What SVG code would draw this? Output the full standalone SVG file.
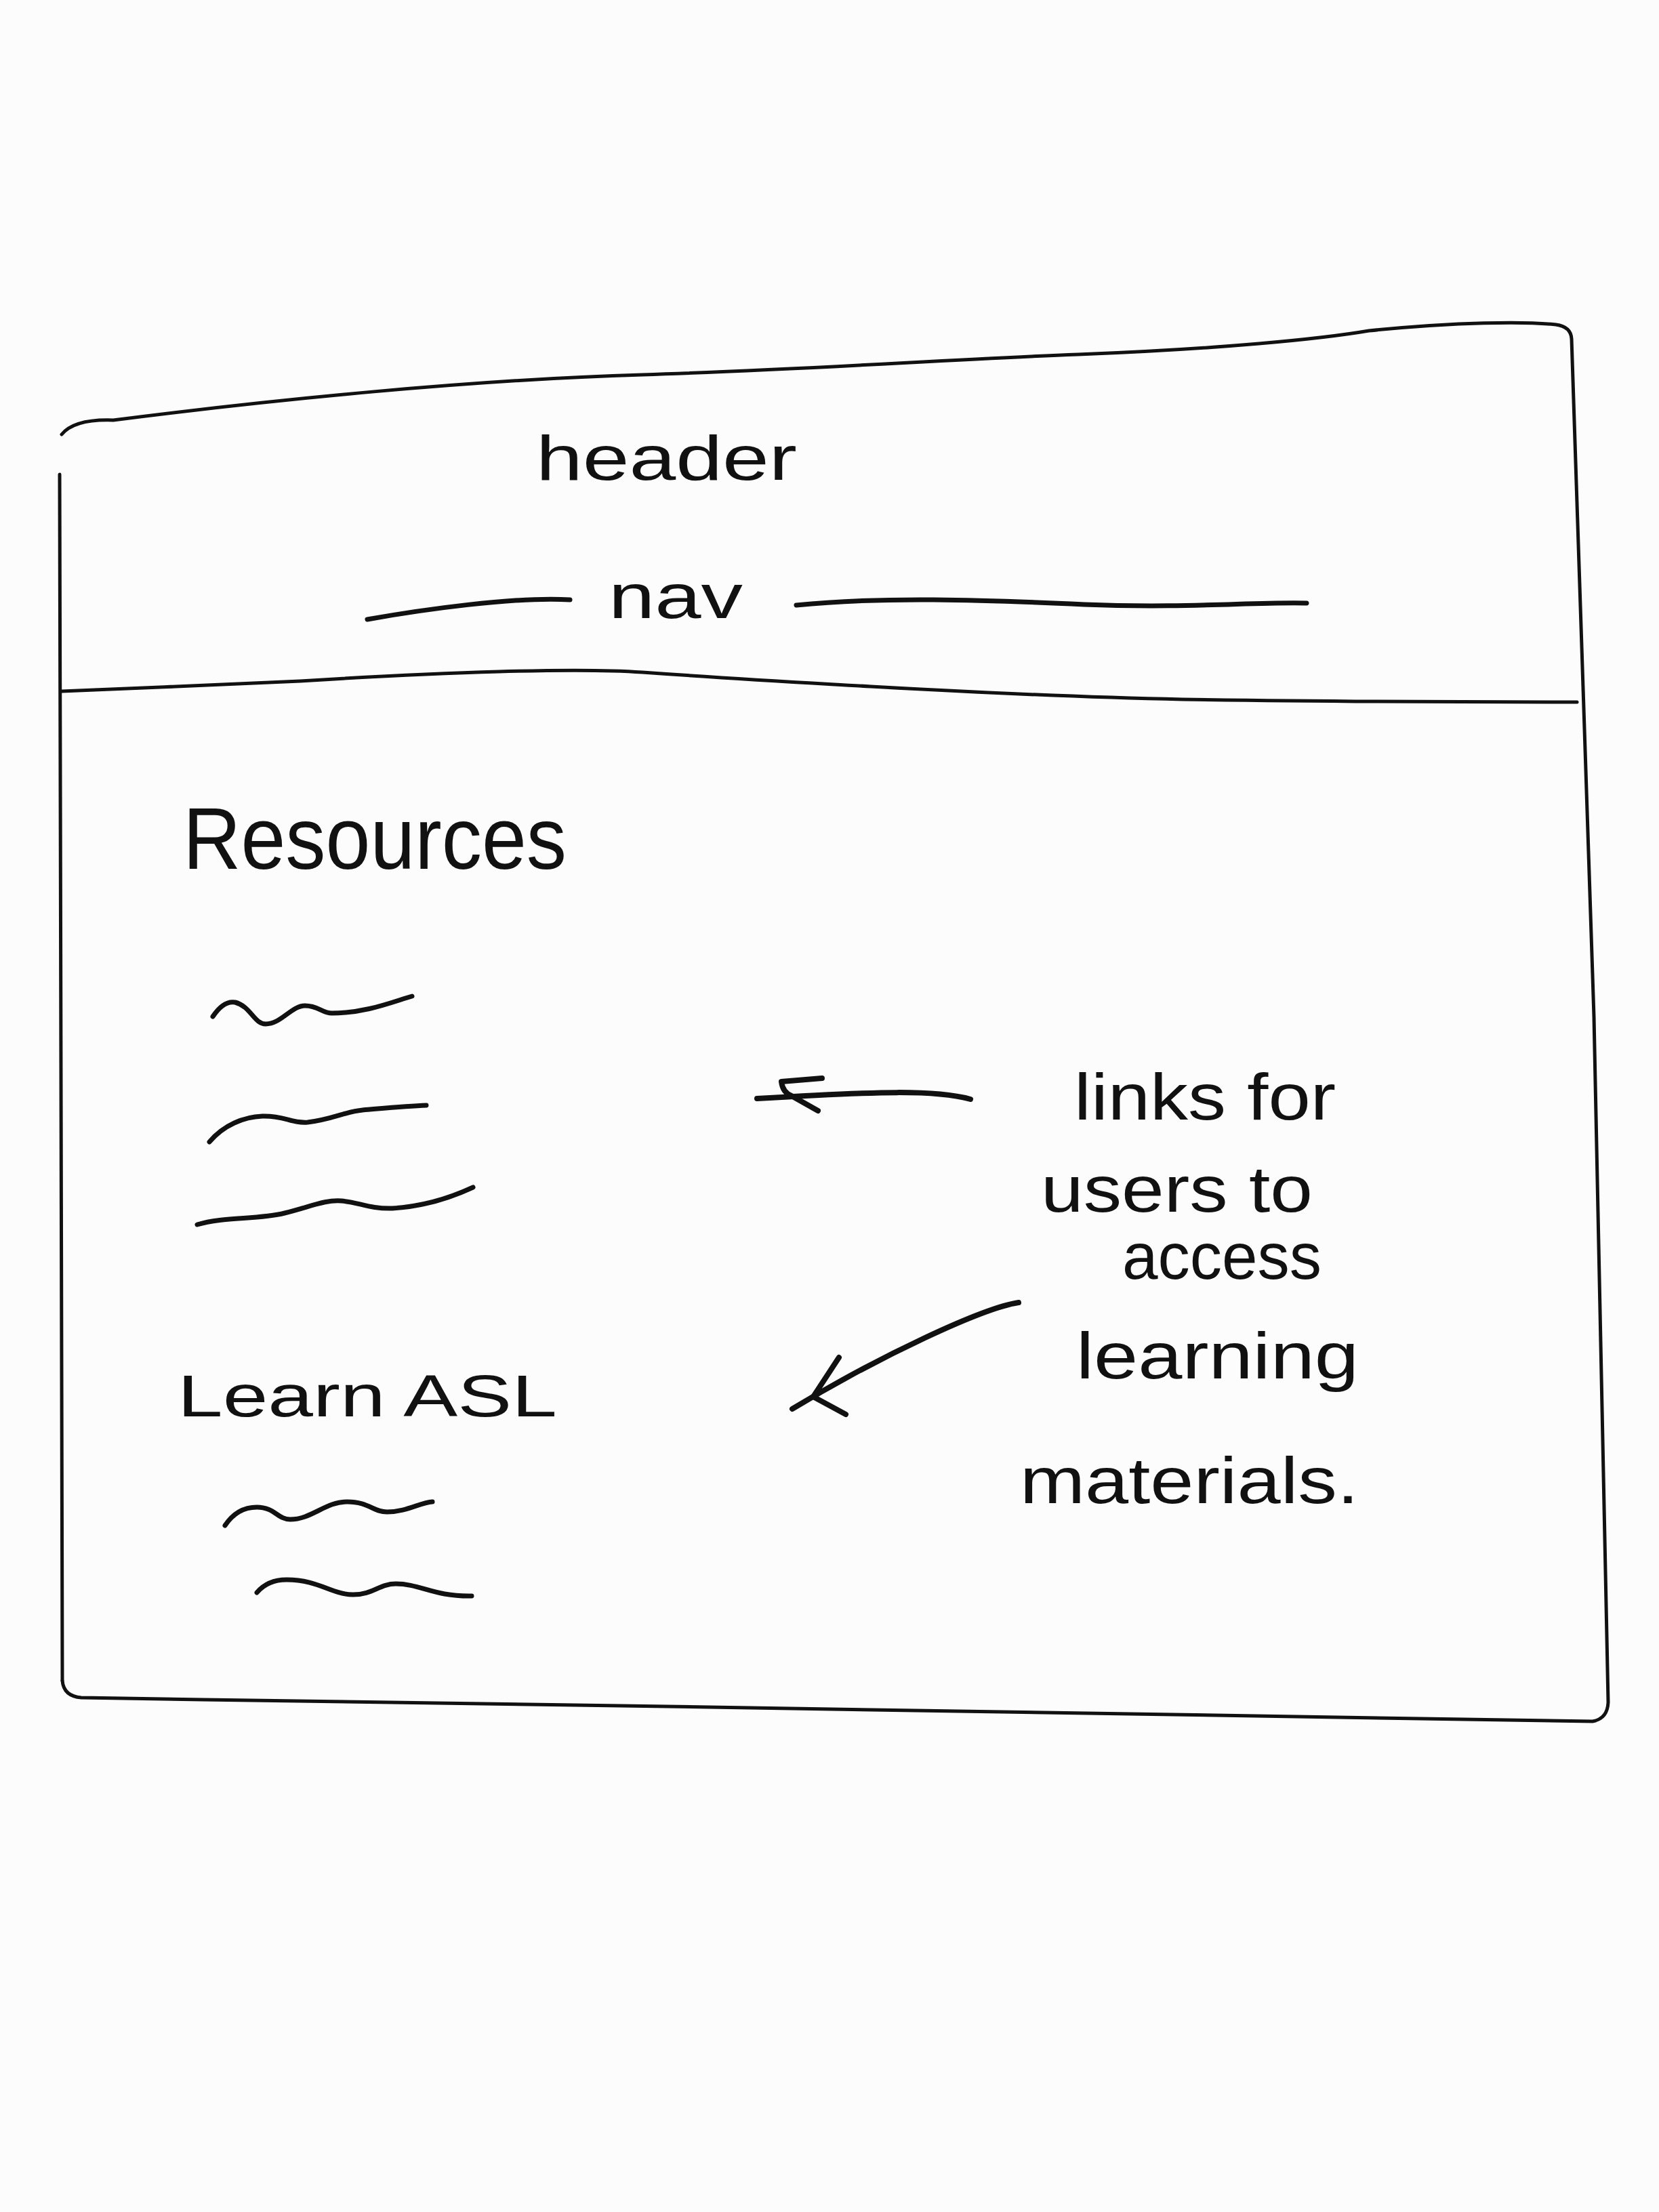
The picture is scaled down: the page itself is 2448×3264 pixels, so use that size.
<svg xmlns="http://www.w3.org/2000/svg" width="2448" height="3264" viewBox="0 0 2448 3264">
<style>
.ink{fill:none;stroke:#111;stroke-linecap:round;stroke-linejoin:round}
.frame{stroke-width:5}
.sq{stroke-width:7}
.arr{stroke-width:8}
.t{font-family:"Liberation Sans","DejaVu Sans",sans-serif;fill:#111}
</style>
<rect width="2448" height="3264" fill="#fcfcfc"/>
<g id="frame">
<path class="ink frame" d="M91,641 Q110,618 167,620 C400,590 700,560 948,553 C1200,545 1400,530 1591,523 C1800,515 1950,500 2020,488 C2150,475 2250,474 2296,479 Q2318,482 2319,500 L2352,1500 L2373,2512 Q2372,2536 2350,2540 C1800,2530 1000,2518 300,2508 L120,2505 Q94,2503 92,2480"/>
<path class="ink frame" d="M88,700 L92,2480"/>
<path class="ink frame" d="M91,1020 C200,1015 350,1010 443,1005 C650,992 850,985 948,992 C1100,1003 1200,1008 1285,1013 C1500,1025 1650,1030 1745,1032 C2000,1036 2200,1036 2327,1036"/>
</g>
<g id="header"><text class="t" x="791" y="708" font-size="92" textLength="385" lengthAdjust="spacingAndGlyphs">header</text></g>
<g id="nav">
<path class="ink sq" d="M542,914 C620,900 760,880 841,885"/>
<path class="ink sq" d="M1175,893 C1300,880 1450,885 1600,892 C1750,898 1850,888 1928,890"/>
<text class="t" x="898" y="912" font-size="92" textLength="198" lengthAdjust="spacingAndGlyphs">nav</text>
</g>
<g id="resources">
<text class="t" x="270" y="1282" font-size="130" textLength="566" lengthAdjust="spacingAndGlyphs">Resources</text>
<path class="ink sq" d="M314,1500 Q330,1476 347,1479 C370,1485 375,1511 392,1511 C415,1511 430,1484 450,1484 C470,1484 475,1495 490,1495 C540,1495 580,1478 608,1470"/>
<path class="ink sq" d="M309,1685 C330,1660 360,1648 387,1647 C420,1646 430,1658 454,1656 C490,1652 510,1640 535,1638 C570,1635 600,1632 629,1631"/>
<path class="ink sq" d="M291,1807 C330,1795 380,1800 420,1790 C460,1780 480,1770 504,1772 C530,1774 545,1784 579,1783 C630,1780 670,1765 698,1752"/>
</g>
<g id="learn-asl">
<text class="t" x="262" y="2090" font-size="88" textLength="560" lengthAdjust="spacingAndGlyphs">Learn ASL</text>
<path class="ink sq" d="M332,2251 Q350,2224 379,2224 C405,2224 410,2242 428,2242 C460,2242 480,2216 512,2216 C545,2216 550,2231 571,2231 C600,2231 620,2217 638,2216"/>
<path class="ink sq" d="M379,2350 Q395,2331 423,2331 C470,2331 490,2353 521,2353 C550,2353 560,2337 584,2337 C620,2337 640,2356 696,2355"/>
</g>
<g id="note">
<text class="t" x="1585" y="1652" font-size="96" textLength="386" lengthAdjust="spacingAndGlyphs">links for</text>
<text class="t" x="1536" y="1788" font-size="96" textLength="401" lengthAdjust="spacingAndGlyphs">users to</text>
<text class="t" x="1656" y="1887" font-size="96" textLength="294" lengthAdjust="spacingAndGlyphs">access</text>
<text class="t" x="1588" y="2034" font-size="96" textLength="417" lengthAdjust="spacingAndGlyphs">learning</text>
<text class="t" x="1505" y="2218" font-size="96" textLength="500" lengthAdjust="spacingAndGlyphs">materials.</text>
</g>
<g id="connectors">
<path class="ink arr" d="M1432,1622 C1380,1608 1300,1610 1117,1621"/>
<path class="ink arr" d="M1213,1591 L1153,1596 Q1155,1612 1168,1617 L1207,1639"/>
<path class="ink arr" d="M1503,1922 C1450,1930 1300,2000 1169,2079"/>
<path class="ink arr" d="M1238,2003 L1200,2061 L1248,2087"/>
</g>
</svg>
